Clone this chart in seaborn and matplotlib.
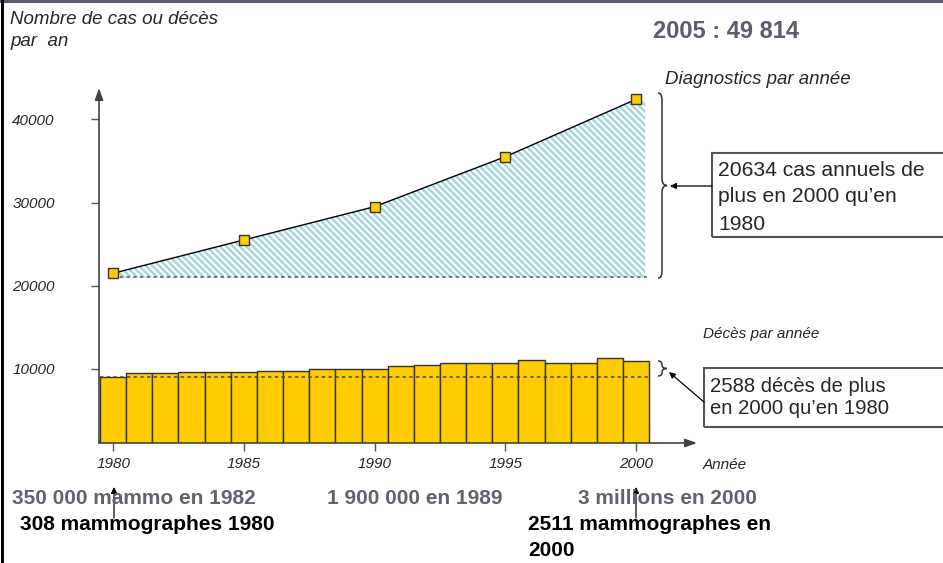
import numpy as np
import pandas as pd
import matplotlib
matplotlib.use('Agg')
import matplotlib.pyplot as plt
import seaborn as sns
from matplotlib.patches import Rectangle, FancyArrowPatch, PathPatch
from matplotlib.path import Path

# ---------------- data ----------------
inc_years = [1980, 1985, 1990, 1995, 2000]
inc_values = [21500, 25500, 29500, 35500, 42400]
inc_baseline = 21000
death_years = list(range(1980, 2001))
death_values = [9035, 9480, 9480, 9600, 9670, 9670, 9790, 9790, 10030, 10030,
                10030, 10390, 10510, 10680, 10680, 10760, 11040, 10760, 10760,
                11360, 11000]
y_ticks = [10000, 20000, 30000, 40000]
x_ticks = [1980, 1985, 1990, 1995, 2000]
y_limits = (1105, 43758)
x_limits = (1979.46, 2002.33)

sns.set_style('white')
plt.rcParams['font.family'] = ['Liberation Sans', 'DejaVu Sans']
plt.rcParams['hatch.linewidth'] = 1.8
plt.rcParams['hatch.color'] = '#a6d6db'

W, H = 943, 563
fig = plt.figure(figsize=(W / 100, H / 100), dpi=100)
fig.patch.set_facecolor('white')


def fx(x):
    return x / W


def fy(y):
    return 1 - y / H


def P(x, y):
    return (fx(x), fy(y))


ax = fig.add_axes([fx(99), fy(443), fx(697) - fx(99), fy(88) - fy(443)])
ax.set_facecolor('none')

df_d = pd.DataFrame({'year': death_years, 'deaths': death_values})
sns.barplot(data=df_d, x='year', y='deaths', native_scale=True, width=1,
            color='#FFCC00', saturation=1, edgecolor='#333333', linewidth=1,
            errorbar=None, ax=ax, zorder=2)

# hatched area (extends a little past the last marker, as in the original)
fill_x = inc_years + [inc_years[-1] + 0.35]
fill_y = inc_values + [inc_values[-1]]
ax.fill_between(fill_x, inc_baseline, fill_y, facecolor='white',
                edgecolor='#a6d6db', hatch='\\\\\\\\\\', linewidth=0, zorder=1)

df_i = pd.DataFrame({'year': inc_years, 'cases': inc_values})
sns.lineplot(data=df_i, x='year', y='cases', color='black', linewidth=1,
             marker='s', markersize=6.5, markerfacecolor='#FFCC00',
             markeredgecolor='#333333', markeredgewidth=1, ax=ax, zorder=5)

ax.hlines(inc_baseline, inc_years[0], inc_years[-1] + 0.4, colors='#555555',
          linestyles=(0, (2.2, 2.2)), linewidth=1.1, zorder=3)
ax.hlines(death_values[0], death_years[0] - 0.5, death_years[-1] + 0.5,
          colors='#444444', linestyles=(0, (2.2, 2.2)), linewidth=1.1, zorder=4)

ax.set_xlim(*x_limits)
ax.set_ylim(*y_limits)
for s in ax.spines.values():
    s.set_visible(False)
ax.set_xlabel('')
ax.set_ylabel('')
ax.set_yticks(y_ticks)
ax.set_yticklabels([str(v) for v in y_ticks], fontstyle='italic', fontsize=11)
ax.set_xticks(x_ticks)
ax.set_xticklabels([str(v) for v in x_ticks], fontstyle='italic', fontsize=11)
ax.tick_params(axis='y', left=True, direction='out', length=5.8, width=1,
               color='#555555', pad=26)
ax.tick_params(axis='x', bottom=True, direction='out', length=5.8, width=1,
               color='#555555', pad=4)
ax.grid(False)

# axis arrows
ax.annotate('', xy=(0, 1), xytext=(0, 0), xycoords='axes fraction',
            arrowprops=dict(arrowstyle='-|>,head_length=0.7,head_width=0.25',
                            color='#444444', lw=1.2, shrinkA=0, shrinkB=0),
            annotation_clip=False, zorder=6)
ax.annotate('', xy=(1, 0), xytext=(0, 0), xycoords='axes fraction',
            arrowprops=dict(arrowstyle='-|>,head_length=0.7,head_width=0.25',
                            color='#444444', lw=1.2, shrinkA=0, shrinkB=0),
            annotation_clip=False, zorder=6)

# ---------------- texts ----------------
fig.text(*P(10, 19), 'Nombre de cas ou décès', fontsize=13.5, fontstyle='italic',
         va='center', ha='left')
fig.text(*P(10, 42), 'par  an', fontsize=13.5, fontstyle='italic',
         va='center', ha='left')
fig.text(*P(653, 31), '2005 : 49 814', fontsize=17, fontweight='bold',
         color='#5c5c6a', va='center', ha='left')
fig.text(*P(665, 79), 'Diagnostics par année', fontsize=13.4, fontstyle='italic',
         va='center', ha='left')
fig.text(*P(703, 334), 'Décès par année', fontsize=11, fontstyle='italic',
         va='center', ha='left')
fig.text(*P(703, 465), 'Année', fontsize=11, fontstyle='italic',
         va='center', ha='left')

# box 1
fig.add_artist(Rectangle(P(712, 237), fx(960) - fx(712), fy(153) - fy(237),
                         transform=fig.transFigure, fill=False,
                         edgecolor='#555555', lw=1.5))
for txt, yy in [('20634 cas annuels de', 170), ('plus en 2000 qu’en', 197),
                ('1980', 224)]:
    fig.text(*P(718, yy), txt, fontsize=15.2, va='center', ha='left')

# box 2
fig.add_artist(Rectangle(P(704, 427), fx(960) - fx(704), fy(368) - fy(427),
                         transform=fig.transFigure, fill=False,
                         edgecolor='#555555', lw=1.5))
for txt, yy in [('2588 décès de plus', 387), ('en 2000 qu’en 1980', 408)]:
    fig.text(*P(710, yy), txt, fontsize=14.6, va='center', ha='left')


# braces
def brace(x0, xm, xtip, ytop, ybot, d):
    ymid = (ytop + ybot) / 2
    pts = [(x0, ytop), (xm, ytop), (xm, ytop + d), (xm, ymid - d),
           (xm, ymid), (xtip, ymid), (xm, ymid), (xm, ymid + d),
           (xm, ybot - d), (xm, ybot), (x0, ybot)]
    codes = [Path.MOVETO, Path.CURVE3, Path.CURVE3, Path.LINETO,
             Path.CURVE3, Path.CURVE3, Path.CURVE3, Path.CURVE3,
             Path.LINETO, Path.CURVE3, Path.CURVE3]
    verts = [P(x, y) for x, y in pts]
    fig.add_artist(PathPatch(Path(verts, codes), transform=fig.transFigure,
                             fill=False, edgecolor='#333333', lw=1.1))


brace(658, 662, 667, 93, 278, 7)
brace(658, 662, 667, 361, 376, 3.5)

# annotation arrows
for a, b in [((712, 186), (670, 186)), ((704, 402), (669, 372)),
             ((114, 518), (114, 487)), ((636, 518), (636, 487))]:
    fig.add_artist(FancyArrowPatch(P(*a), P(*b), transform=fig.transFigure,
                                   arrowstyle='-|>', mutation_scale=9,
                                   color='black', lw=0.9, shrinkA=0, shrinkB=0))

# bottom texts
gray = '#62626f'
fig.text(*P(12, 499), '350 000 mammo en 1982', fontsize=15, fontweight='bold',
         color=gray, va='center', ha='left')
fig.text(*P(327, 499), '1 900 000 en 1989', fontsize=15, fontweight='bold',
         color=gray, va='center', ha='left')
fig.text(*P(578, 499), '3 millions en 2000', fontsize=15, fontweight='bold',
         color=gray, va='center', ha='left')
fig.text(*P(20, 524), '308 mammographes 1980', fontsize=15, fontweight='bold',
         color='black', va='center', ha='left')
fig.text(*P(528, 524), '2511 mammographes en', fontsize=15, fontweight='bold',
         color='black', va='center', ha='left')
fig.text(*P(528, 550), '2000', fontsize=15, fontweight='bold',
         color='black', va='center', ha='left')

# frame
fig.add_artist(Rectangle(P(0, 3), 1, fy(0) - fy(3), transform=fig.transFigure,
                         facecolor='#5b5b6b', edgecolor='none'))
fig.add_artist(Rectangle(P(1, 563), fx(4) - fx(1), 1, transform=fig.transFigure,
                         facecolor='black', edgecolor='none'))

fig.savefig('out.png', dpi=100)
